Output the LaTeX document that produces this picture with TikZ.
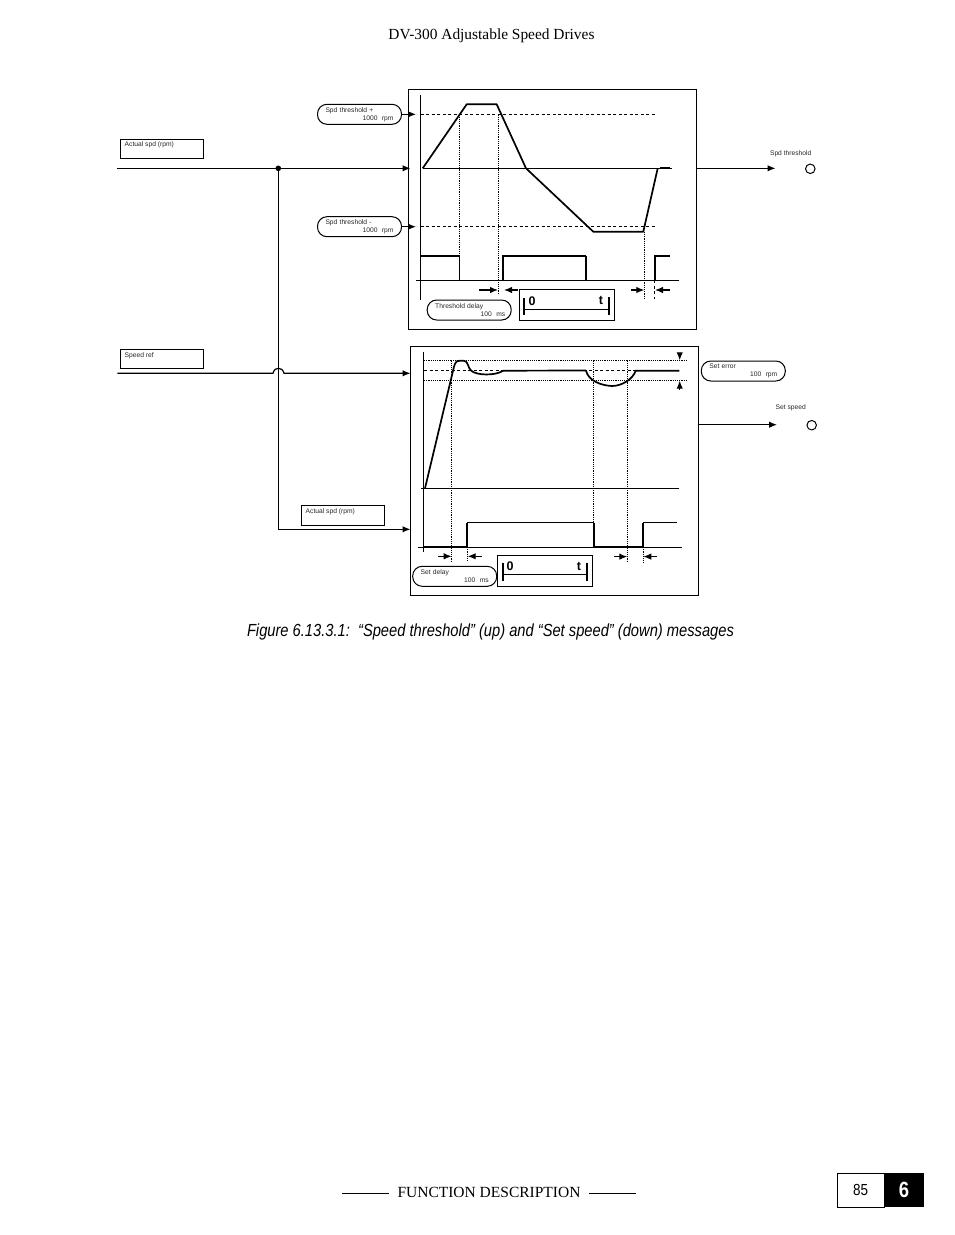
\documentclass[tikz,border=0pt]{standalone}
\usepackage{fontspec}
\usepackage{amsmath}
\usetikzlibrary{arrows.meta}
\setmainfont{Liberation Serif}
\setsansfont{Liberation Sans}
\newfontfamily\narrowfont[FakeStretch=0.84]{Liberation Sans}
\tikzset{
  smalltext/.style={font=\sffamily\fontsize{6.7}{8}\selectfont, text=black!85, inner sep=0pt},
  panelbox/.style={draw, rectangle, line width=1.2pt, inner sep=0pt},
  signalbox/.style={draw, rectangle, line width=1.1pt, minimum width=83pt, minimum height=19pt, inner sep=0pt},
  pillbox/.style={draw, rectangle, rounded corners=9.5pt, line width=1pt, minimum width=84pt, minimum height=20pt, text width=68pt, align=left, inner sep=0pt, font=\sffamily\fontsize{6.7}{8}\selectfont, text=black!85},
  timerbox/.style={draw, rectangle, line width=1.2pt, minimum width=95pt, minimum height=31pt, inner sep=0pt},
  timertext/.style={font=\sffamily\bfseries\fontsize{12.5}{13}\selectfont, inner sep=0pt},
  lamp/.style={draw, circle, line width=1pt, minimum size=9.5pt, inner sep=0pt},
  wave/.style={line width=1.7pt, line join=round},
  pulse/.style={line width=2pt, line join=miter},
  level/.style={line width=1pt, dash pattern=on 3pt off 2.5pt},
  mark line/.style={line width=1pt, dash pattern=on 1.2pt off 1pt},
  wire/.style={line width=1.2pt},
  wirein/.style={line width=1.2pt, -{Latex[length=8pt,width=6.5pt]}}
}
\begin{document}
\begin{tikzpicture}[x=1pt, y=-1pt]
\useasboundingbox (0,0) rectangle (954,1235);

% page texts
\node[font=\fontsize{15.4}{18}\selectfont, inner sep=0pt] (pagehead) at (491.5,35.5) {DV-300 Adjustable Speed Drives};
\node[font=\narrowfont\itshape\fontsize{17.5}{20}\selectfont, inner sep=0pt] (caption) at (490.5,631.5) {Figure 6.13.3.1:\ \ “Speed threshold” (up) and “Set speed” (down) messages};
\node[font=\fontsize{15.5}{18}\selectfont, inner sep=0pt] (pagefoot) at (489,1192.5) {FUNCTION DESCRIPTION};
\coordinate (foota) at (342,1193);
\coordinate (footb) at (389,1193);
\coordinate (footc) at (589,1193);
\coordinate (footd) at (636,1193);
\draw[line width=0.8pt] (foota) -- (footb);
\draw[line width=0.8pt] (footc) -- (footd);
\node[draw, rectangle, line width=1pt, minimum width=47pt, minimum height=34pt, inner sep=0pt, font=\narrowfont\fontsize{16}{18}\selectfont] (pagenum) at (860.5,1190) {85};
\node[fill=black, rectangle, minimum width=40pt, minimum height=34pt, inner sep=0pt, text=white, font=\narrowfont\bfseries\fontsize{22}{24}\selectfont] (chapnum) at (904,1190) {6};

% panels
\node[panelbox, minimum width=288pt, minimum height=240pt] (threshpanel) at (552.3,209.2) {};
\node[panelbox, minimum width=288pt, minimum height=249pt] (setpanel) at (554.3,470.8) {};

% signal boxes
\node[signalbox] (actualbox) at (161.8,148.8) {};
\node[smalltext, anchor=north west] (actualtxt) at (124.5,141.8) {Actual spd (rpm)};
\node[signalbox] (refbox) at (161.8,358.8) {};
\node[smalltext, anchor=north west] (reftxt) at (124.5,352) {Speed ref};
\node[signalbox, minimum height=20pt] (actualboxb) at (343,515.3) {};
\node[smalltext, anchor=north west] (actualtxtb) at (305.5,508.2) {Actual spd (rpm)};

% pills
\node[pillbox] (spdplus) at (359.5,114.3) {Spd threshold +\\\leavevmode\hfill 1000~~rpm};
\node[pillbox] (spdminus) at (359.5,226.7) {Spd threshold -\\\leavevmode\hfill 1000~~rpm};
\node[pillbox] (threshdelay) at (469.2,310) {Threshold delay\\\leavevmode\hfill 100~~ms\hspace*{-2pt}};
\node[pillbox] (setdelay) at (454.7,576.3) {Set delay\\\leavevmode\hfill 100~~ms};
\node[pillbox] (seterror) at (743.3,371) {Set error\\\leavevmode\hfill 100~~rpm};

% lamps
\node[lamp] (threshlamp) at (810.3,168.8) {};
\node[smalltext] (threshtxt) at (790.7,153.8) {Spd threshold};
\node[lamp] (setlamp) at (811.7,425.2) {};
\node[smalltext] (settxt) at (790.7,407.8) {Set speed};

% connectors
\coordinate (actualstart) at (117.3,168.3);
\coordinate (actualin) at (410.5,168.3);
\coordinate (refstart) at (117.3,373.3);
\coordinate (refin) at (410.5,373.3);
\coordinate (fbjoint) at (278.3,168.3);
\coordinate (fbcorner) at (278.3,529.3);
\coordinate (fbin) at (410.5,529.3);
\coordinate (plusin) at (416,114.3);
\coordinate (minusin) at (416,226.7);
\coordinate (threshout) at (775.5,168.3);
\coordinate (setout) at (777,424.7);
\draw[wirein] (actualstart) -- (actualin);
\fill (fbjoint) circle[radius=2.8];
\draw[wire] (fbjoint) -- (fbcorner);
\draw[wirein] (fbcorner) -- (fbin);
\draw[wirein] (refstart) -- (273,373.3) .. controls (274,369.5) and (276,368.3) .. (278.3,368.3) .. controls (281,368.3) and (283,369.5) .. (284,373.3) -- (refin);
\draw[wirein] (spdplus.east) -- (plusin);
\draw[wirein] (spdminus.east) -- (minusin);
\draw[wirein] (threshpanel.east |- threshout) -- (threshout);
\draw[wirein] (setpanel.east |- setout) -- (setout);

% speed threshold plot
\draw[wire] (420.7,95) -- (420.7,300);
\draw[wire] (422.7,168.3) -- (671.7,168.3);
\draw[wire] (416,280.3) -- (678.7,280.3);
\draw[level] (420.7,114.3) -- (655,114.3);
\draw[level] (420.7,226.7) -- (655,226.7);
\draw[mark line] (459.3,114.3) -- (459.3,280);
\draw[mark line] (498.3,114.3) -- (498.3,293);
\draw[mark line] (644.3,231.7) -- (644.3,299);
\draw[level] (654.5,280) -- (654.5,299);
\draw[wave] (422.7,168.3) -- (466.7,104.3) -- (496.7,104.3) -- (526,168.3) -- (593.3,231.7) -- (643.3,231.7) -- (657.7,168.3);
\draw[wave] (660,167.5) -- (670,167.5);
\draw[pulse] (420.7,255.7) -- (459.3,255.7);
\draw[wire] (459.3,255.7) -- (459.3,280.3);
\draw[pulse] (503.3,280.3) -- (503.3,255.7) -- (586,255.7);
\draw[wire] (586,255.7) -- (586,280.3);
\draw[pulse] (655,280.3) -- (655,255.7) -- (670,255.7);
\draw[wirein] (479.3,290) -- (498,290);
\draw[wirein] (518.3,290) -- (504,290);
\draw[wirein] (631,290) -- (644.3,290);
\draw[wirein] (670,290) -- (655,290);
\node[timerbox] (threshtimer) at (566.8,304.8) {};
\node[timertext] (threshzero) at (532,300.8) {0};
\node[timertext] (thresht) at (601,300.3) {t};
\draw[line width=1.6pt] (524.3,309.3) -- (609,309.3);
\draw[line width=2pt] (524.3,298) -- (524.3,315.3);
\draw[line width=2pt] (609,297) -- (609,315.3);

% set speed plot
\draw[wire] (423.3,351.7) -- (423.3,551.7);
\draw[wire] (420.7,488.3) -- (678.7,488.3);
\draw[wire] (418.3,547.3) -- (681.7,547.3);
\draw[mark line] (424,360.3) -- (686,360.3);
\draw[level] (424,370.3) -- (678,370.3);
\draw[mark line] (424,380.3) -- (688,380.3);
\draw[mark line] (451.3,360.3) -- (451.3,561.7);
\draw[mark line] (593.7,360.3) -- (593.7,547);
\draw[mark line] (627.3,360.3) -- (627.3,562.7);
\draw[mark line] (467.3,547) -- (467.3,561.7);
\draw[mark line] (643,547) -- (643,562.7);
\draw[wave] (425,488.3) -- (454,366.7) .. controls (456,360) and (458,360.7) .. (460.5,360.7) -- (464,360.7) .. controls (468,360.7) and (468,368) .. (471,370.5) .. controls (476,375.5) and (495,376) .. (503.3,370.7) -- (586,370.5) .. controls (588,380) and (600,385.5) .. (612,386) .. controls (622,386) and (633,379) .. (635.7,370.7) -- (679.3,370.7);
\draw[pulse] (423.3,547.3) -- (467.3,547.3) -- (467.3,522.7);
\draw[wire] (467.3,522.7) -- (593.7,522.7);
\draw[pulse] (593.7,522.7) -- (593.7,547.3) -- (643,547.3) -- (643,522.7);
\draw[wire] (643,522.7) -- (676.7,522.7);
\draw[wirein] (438.3,556.3) -- (451.7,556.3);
\draw[wirein] (481.7,556.3) -- (467.7,556.3);
\draw[wirein] (614,556.6) -- (627.3,556.6);
\draw[wirein] (657.3,556.6) -- (643.3,556.6);
\draw[wirein] (679.7,352.5) -- (679.7,360.3);
\draw[wirein] (679.7,390) -- (679.7,380.7);
\node[timerbox] (settimer) at (545,571) {};
\node[timertext] (setzero) at (510,566) {0};
\node[timertext] (sett) at (579,566) {t};
\draw[line width=1.6pt] (503.3,574.3) -- (587.3,574.3);
\draw[line width=2pt] (503.3,562.7) -- (503.3,581.3);
\draw[line width=2pt] (587.3,562.7) -- (587.3,581.3);
\end{tikzpicture}
\end{document}
